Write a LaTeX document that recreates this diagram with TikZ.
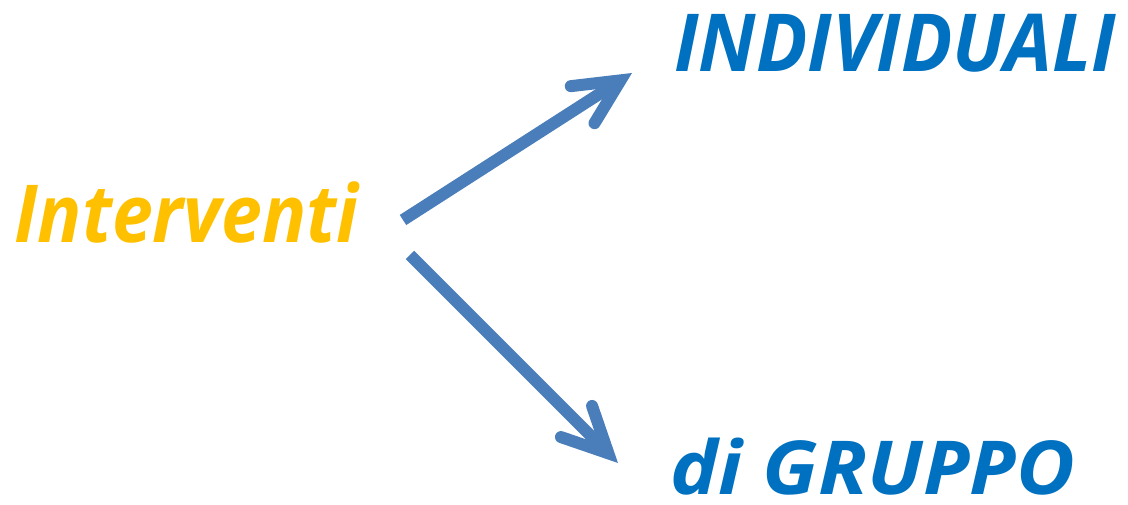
\documentclass[tikz,border=0pt]{standalone}
\usepackage{fontspec}
\usepackage{graphicx}
\setmainfont{Open Sans}
\usetikzlibrary{arrows.meta}
\definecolor{arrblue}{RGB}{74,126,187}
\definecolor{txtblue}{RGB}{0,112,192}
\definecolor{txtorange}{RGB}{255,192,0}
\newcommand{\fitw}[3][1]{\resizebox{#2}{#1\height}{#3}}
\tikzset{
  lbl/.style={inner sep=0pt, anchor=base west, font=\fontsize{80}{90}\selectfont\bfseries\itshape},
  conn/.style={draw=arrblue, line width=12pt, line cap=butt,
    -{Straight Barb[length=45pt, width=44pt, line cap=round, line join=miter]}}
}
\begin{document}
\begin{tikzpicture}[x=1pt,y=1pt]
\useasboundingbox (0,0) rectangle (1128,505);
\node[lbl, text=txtorange] (src) at (14,262) {\fitw{344pt}{Interventi}};
\node[lbl, text=txtblue] (ind) at (674,433) {\fitw{442pt}{INDIVIDUALI}};
\node[lbl, text=txtblue] (grp) at (670,10) {\fitw[0.93]{405pt}{di GRUPPO}};
\coordinate (t1) at (403,285);
\coordinate (h1) at (632,432);
\coordinate (t2) at (410,250);
\coordinate (h2) at (618,42);
\draw[conn] (t1) -- (h1);
\draw[conn] (t2) -- (h2);
\end{tikzpicture}
\end{document}
